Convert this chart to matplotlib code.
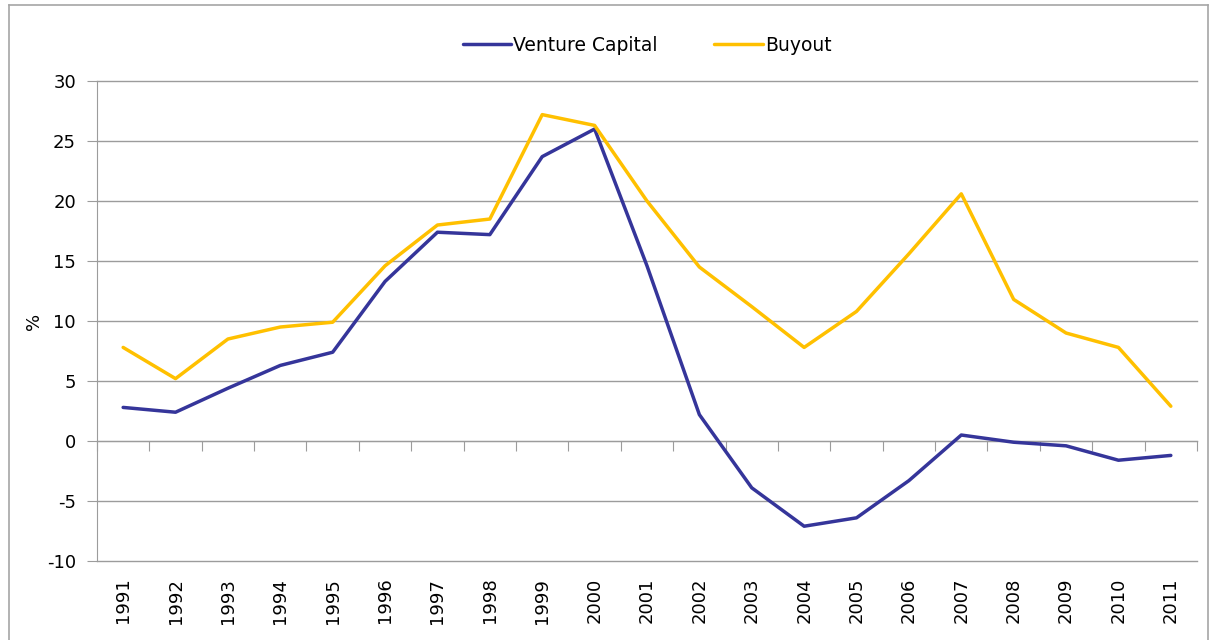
import matplotlib.pyplot as plt
from matplotlib.lines import Line2D

years = [str(y) for y in range(1991, 2012)]
venture = [2.8, 2.4, 4.4, 6.3, 7.4, 13.3, 17.4, 17.2, 23.7, 26.0, 14.6,
           2.2, -3.9, -7.1, -6.4, -3.3, 0.5, -0.1, -0.4, -1.6, -1.2]
buyout = [7.8, 5.2, 8.5, 9.5, 9.9, 14.6, 18.0, 18.5, 27.2, 26.3, 20.0,
          14.5, 11.2, 7.8, 10.8, 15.6, 20.6, 11.8, 9.0, 7.8, 2.9]

grey = "#9c9c9c"
plt.rcParams["font.family"] = ["DejaVu Sans"]
plt.rcParams["axes.unicode_minus"] = False

fig = plt.figure(figsize=(12.15, 6.4), dpi=100)
ax = fig.add_axes([0.0798, 0.1234, 0.9054, 0.75])

x = list(range(len(years)))
ax.plot(x, venture, color="#35359a", lw=2.5, label="Venture Capital",
        solid_joinstyle="round", solid_capstyle="round")
ax.plot(x, buyout, color="#ffc000", lw=2.5, label="Buyout",
        solid_joinstyle="round", solid_capstyle="round")

ax.set_xlim(-0.5, len(years) - 0.5)
ax.set_ylim(-10, 30)
ax.set_yticks(range(-10, 31, 5))
ax.grid(axis="y", color=grey, lw=1)
for g in ax.get_ygridlines():
    g.set_clip_on(False)
ax.set_axisbelow(True)
for s in ["top", "right", "bottom"]:
    ax.spines[s].set_visible(False)
ax.spines["left"].set_color(grey)
ax.tick_params(axis="y", color=grey, length=7, labelsize=13, pad=8)
ax.set_xticks(x)
ax.set_xticklabels(years, rotation=90, fontsize=13)
ax.tick_params(axis="x", length=0, pad=12)
ax.set_ylabel("%", fontsize=13)
ax.yaxis.set_label_coords(-0.049, 0.5)

# category axis crossing at zero
sec = ax.secondary_xaxis(0.25)
sec.set_xticks([i - 0.5 for i in range(len(years) + 1)])
sec.set_xticklabels([])
sec.tick_params(axis="x", direction="out", length=7, color=grey)
sec.spines["bottom"].set_color(grey)

ax.legend(loc="lower center", bbox_to_anchor=(0.5, 1.02), ncol=2,
          frameon=False, fontsize=13.5, handlelength=2.6, handletextpad=0.1,
          columnspacing=3)

# outer chart border
for xs, ys in [([0.007, 0.007], [0, 0.992]), ([0.007, 0.994], [0.992, 0.992]),
               ([0.994, 0.994], [0, 0.992])]:
    fig.add_artist(Line2D(xs, ys, color="#a6a6a6", lw=1.2,
                          transform=fig.transFigure))

fig.savefig("out.png", dpi=100)
